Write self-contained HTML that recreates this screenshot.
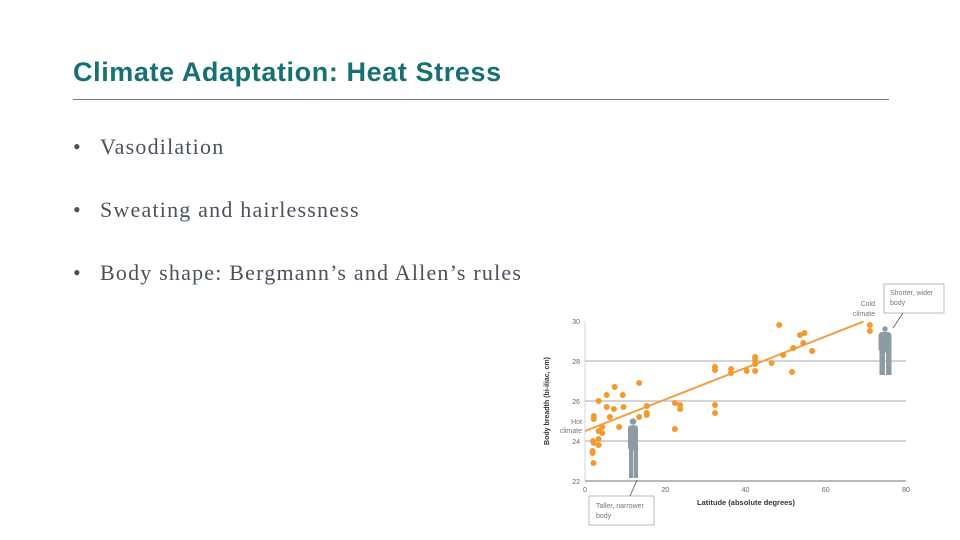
<!DOCTYPE html>
<html><head><meta charset="utf-8"><style>
body{margin:0;background:#fff;}
#page{position:relative;width:960px;height:540px;overflow:hidden;background:#fff;}
.title{position:absolute;left:73px;top:57px;font:bold 27px "Liberation Sans",sans-serif;color:#177171;letter-spacing:0.6px;}
.rule{position:absolute;left:73px;top:99px;width:816px;height:1px;background:#777;}
.bullet{position:absolute;left:73px;font:22px "Liberation Serif",serif;color:#4a535d;letter-spacing:1.2px;}
.bullet span{display:inline-block;width:27px;}
</style></head><body>
<div id="page">
<div class="title">Climate Adaptation: Heat Stress</div>
<div class="rule"></div>
<div class="bullet" style="top:134px"><span>•</span>Vasodilation</div>
<div class="bullet" style="top:197px"><span>•</span>Sweating and hairlessness</div>
<div class="bullet" style="top:260px"><span>•</span>Body shape: Bergmann’s and Allen’s rules</div>
<svg id="chart" width="960" height="540" style="position:absolute;left:0;top:0"></svg>
</div>
<script>
const lat=[2.1,1.9,1.9,2.2,2,3.4,3.4,3.4,4.3,4.3,2.2,2.2,3.4,5.4,5.4,6.2,7.2,7.4,8.5,9.4,9.6,13.5,13.5,15.4,15.4,15.4,22.4,23.7,23.7,22.4,32.4,32.4,32.4,32.4,36.4,36.4,40.3,42.4,42.4,42.4,42.4,46.5,48.4,49.4,51.6,51.9,53.6,54.7,54.4,56.6,71,71];
const breadth=[22.9,23.4,23.5,23.9,24.0,23.8,24.1,24.5,24.4,24.7,25.1,25.25,26.0,25.7,26.3,25.2,25.6,26.7,24.7,26.3,25.7,26.9,25.2,25.75,25.4,25.3,25.9,25.8,25.6,24.6,27.7,27.55,25.8,25.4,27.6,27.4,27.5,28.2,28.05,27.85,27.5,27.9,29.8,28.3,27.45,28.65,29.3,29.4,28.9,28.5,29.8,29.5];
const xTicks=[0,20,40,60,80];
const yTicks=[22,24,26,28,30];
const fitLine=[[0,24.5],[69.4,29.97]];
const sx=v=>585+v*(906-585)/80;
const sy=v=>481-(v-22)*20;
const svg=document.getElementById('chart');
const NS='http://www.w3.org/2000/svg';
function mk(t,a){const e=document.createElementNS(NS,t);for(const k in a)e.setAttribute(k,a[k]);svg.appendChild(e);return e;}
yTicks.forEach(t=>{
 if(t>22&&t<30){const g=mk('line',{x1:sx(0),x2:sx(80),y1:sy(t),y2:sy(t),stroke:'#aaa','stroke-width':1});
 
 }
 const l=mk('text',{x:sx(0)-5,y:sy(t)+3,'text-anchor':'end','font-size':7,fill:'#666','font-family':'Liberation Sans,sans-serif'});l.textContent=t;
 
 
});
xTicks.forEach(t=>{
 const l=mk('text',{x:sx(t),y:sy(22)+11,'text-anchor':'middle','font-size':7,fill:'#666','font-family':'Liberation Sans,sans-serif'});l.textContent=t;
 
 
});
const ax=mk('line',{x1:sx(0),x2:sx(80),y1:sy(22),y2:sy(22),stroke:'#777','stroke-width':1});


const ay=mk('line',{x1:sx(0),x2:sx(0),y1:sy(22),y2:sy(30),stroke:'#bbb','stroke-width':0.6});


const xt=mk('text',{x:746,y:505,'text-anchor':'middle','font-size':7.5,'font-weight':'bold',fill:'#333','font-family':'Liberation Sans,sans-serif'});xt.textContent='Latitude (absolute degrees)';


const yt=mk('text',{x:0,y:0,'text-anchor':'middle','font-size':7,'font-weight':'bold',fill:'#333','font-family':'Liberation Sans,sans-serif',transform:'translate(549,401) rotate(-90)'});yt.textContent='Body breadth (bi-iliac, cm)';


function person(cx,top,h,w,name){
 const g=document.createElementNS(NS,'g');svg.appendChild(g);
 
 
 const f='#8d9ba3';
 const add=(t,a)=>{const e=document.createElementNS(NS,t);for(const k in a)e.setAttribute(k,a[k]);g.appendChild(e);};
 add('circle',{cx:cx,cy:top+h*0.06,r:h*0.055,fill:f});
 add('rect',{x:cx-w/2,y:top+h*0.12,width:w,height:h*0.42,rx:w*0.3,fill:f});
 add('rect',{x:cx-w/2+1,y:top+h*0.5,width:w*0.42,height:h*0.5,fill:f});
 add('rect',{x:cx+w*0.08,y:top+h*0.5,width:w*0.42,height:h*0.5,fill:f});
}
person(633,418,60,10,'tall-narrow-figure');
person(885,326,49,13,'short-wide-figure');
const fl=mk('line',{x1:sx(fitLine[0][0]),y1:sy(fitLine[0][1]),x2:sx(fitLine[1][0]),y2:sy(fitLine[1][1]),stroke:'#f0a040','stroke-width':2});


lat.forEach((v,i)=>{
 const c=mk('circle',{cx:sx(v),cy:sy(breadth[i]),r:3,fill:'#f29a2e'});
 
 
});
function txt(x,y,s,name,anchor){const t=mk('text',{x:x,y:y,'font-size':7,fill:'#777','font-family':'Liberation Sans,sans-serif','text-anchor':anchor||'start'});t.textContent=s;
 
 }
txt(582,424,'Hot','hot-climate-label','end');txt(582,433,'climate','hot-climate-label','end');
txt(875,306,'Cold','cold-climate-label','end');txt(875,316,'climate','cold-climate-label','end');
const b1=mk('rect',{x:589,y:496,width:65,height:29,fill:'#fff',stroke:'#aaa','stroke-width':0.8});


const l1=mk('line',{x1:630,y1:496,x2:637,y2:480,stroke:'#555','stroke-width':0.8});


txt(596,508,'Taller, narrower','tall-body-text');txt(596,518,'body','tall-body-text');
const b2=mk('rect',{x:884,y:284,width:60,height:29,fill:'#fff',stroke:'#aaa','stroke-width':0.8});


const l2=mk('line',{x1:903,y1:313,x2:893,y2:328,stroke:'#555','stroke-width':0.8});


txt(890,295,'Shorter, wider','short-body-text');txt(890,305,'body','short-body-text');
</script>
</body></html>
